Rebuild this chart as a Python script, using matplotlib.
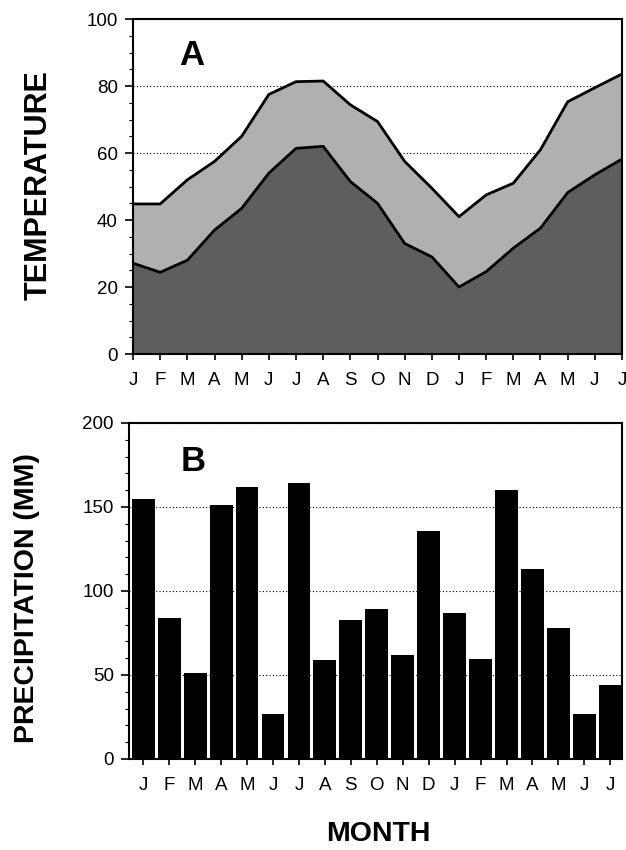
import matplotlib
matplotlib.use("Agg")
import matplotlib.pyplot as plt
from matplotlib.ticker import MultipleLocator
import numpy as np

plt.rcParams['font.family'] = ['Liberation Sans', 'DejaVu Sans']

months = ['J', 'F', 'M', 'A', 'M', 'J', 'J', 'A', 'S', 'O', 'N', 'D',
          'J', 'F', 'M', 'A', 'M', 'J', 'J']
temp_max = [44.8, 44.8, 52, 57.5, 65, 77.5, 81.3, 81.5, 74.4, 69.4, 57.5, 49.5,
            41, 47.5, 51, 61, 75.3, 79.5, 83.6]
temp_min = [27.1, 24.4, 28, 37, 43.5, 54, 61.4, 62, 51.5, 45, 33, 29,
            20, 24.6, 31.6, 37.6, 48.2, 53.5, 58.2]
precip = [155, 84, 51, 151, 162, 27, 164, 59, 83, 89, 62, 135.5,
          87, 59.5, 160, 113, 78, 27, 44]

fig = plt.figure(figsize=(6.26, 8.5), dpi=100)

x = np.arange(len(months))

# Panel A
axA = fig.add_axes([0.2125, 0.5835, 0.9936 - 0.2125, 0.9776 - 0.5835])
axA.set_axisbelow(True)
axA.grid(axis='y', linestyle=(0, (1, 2)), color='black', linewidth=0.8, zorder=0)
axA.fill_between(x, 0, temp_min, color='#5e5e5e', linewidth=0, zorder=2)
axA.fill_between(x, temp_min, temp_max, color='#b0b0b0', linewidth=0, zorder=2)
axA.plot(x, temp_max, color='black', linewidth=2, zorder=3)
axA.plot(x, temp_min, color='black', linewidth=2, zorder=3)
axA.set_xlim(0, 18)
axA.set_ylim(0, 100)
axA.set_xticks(x)
axA.set_xticklabels(months)
axA.set_yticks([0, 20, 40, 60, 80, 100])
axA.yaxis.set_minor_locator(MultipleLocator(5))
axA.text(0.12, 0.89, 'A', transform=axA.transAxes, fontsize=25,
         fontweight='bold', ha='center', va='center')

# Panel B
axB = fig.add_axes([0.2061, 0.1071, 0.9936 - 0.2061, 0.5024 - 0.1071])
axB.set_axisbelow(True)
axB.grid(axis='y', linestyle=(0, (1, 2)), color='black', linewidth=0.8, zorder=0)
axB.bar(x, precip, width=0.88, color='black', zorder=2)
axB.set_xlim(-0.55, 18.45)
axB.set_ylim(0, 200)
axB.set_xticks(x)
axB.set_xticklabels(months)
axB.set_yticks([0, 50, 100, 150, 200])
axB.yaxis.set_minor_locator(MultipleLocator(10))
axB.text(0.13, 0.885, 'B', transform=axB.transAxes, fontsize=25,
         fontweight='bold', ha='center', va='center')

for ax in (axA, axB):
    for s in ax.spines.values():
        s.set_linewidth(1.5)
        s.set_zorder(5)
    ax.tick_params(axis='both', which='major', labelsize=13.5, width=1.2,
                   direction='out')
    ax.tick_params(axis='y', which='major', pad=5, length=6)
    ax.tick_params(axis='x', which='major', pad=9, length=4)
    ax.tick_params(axis='y', which='minor', length=3, width=0.8)

fig.text(39 / 626, 1 - 185 / 850, 'TEMPERATURE', rotation=90, fontsize=22,
         fontweight='bold', ha='center', va='center')
fig.text(27 / 626, 1 - 598 / 850, 'PRECIPITATION (MM)', rotation=90, fontsize=20.5,
         fontweight='bold', ha='center', va='center')
fig.text(378 / 626, 1 - 834 / 850, 'MONTH', fontsize=20.5,
         fontweight='bold', ha='center', va='center')

fig.savefig('out.png', dpi=100)
